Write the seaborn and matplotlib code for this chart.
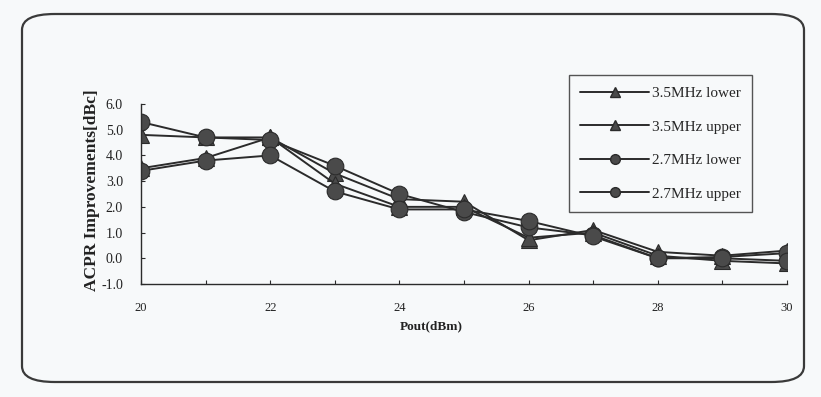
import matplotlib
matplotlib.use("Agg")
import matplotlib.pyplot as plt
from matplotlib.patches import FancyBboxPatch
from matplotlib.lines import Line2D
import numpy as np
import pandas as pd
import seaborn as sns

# Output power sweep (dBm)
pout = [20, 21, 22, 23, 24, 25, 26, 27, 28, 29, 30]

# ACPR improvement (dBc) for each carrier spacing / sideband
acpr_35_lower = [4.8, 4.7, 4.7, 3.3, 2.3, 2.2, 0.7, 1.1, 0.25, 0.1, 0.3]
acpr_35_upper = [3.5, 3.9, 4.7, 2.9, 2.0, 2.0, 0.8, 1.0, 0.1, -0.1, -0.2]
acpr_27_lower = [5.3, 4.7, 4.6, 3.6, 2.5, 1.8, 1.2, 0.9, 0.0, 0.05, 0.2]
acpr_27_upper = [3.4, 3.8, 4.0, 2.6, 1.9, 1.9, 1.45, 0.85, 0.0, 0.0, -0.1]

series_names = ["3.5MHz lower", "3.5MHz upper", "2.7MHz lower", "2.7MHz upper"]
series_markers = ["^", "^", "o", "o"]

y_ticks = [-1.0, 0.0, 1.0, 2.0, 3.0, 4.0, 5.0, 6.0]
x_major = [20, 22, 24, 26, 28, 30]

df = pd.DataFrame({
    "Pout": pout * 4,
    "ACPR": acpr_35_lower + acpr_35_upper + acpr_27_lower + acpr_27_upper,
    "series": np.repeat(series_names, len(pout)),
})

sns.set_theme(style="white")
plt.rcParams["font.family"] = ["Liberation Serif", "DejaVu Serif"]

bg = "#f7f9fa"
ink = "#2b2b2b"
mark = "#4a4a4a"

fig = plt.figure(figsize=(8.21, 3.97), dpi=100, facecolor=bg)
ax = fig.add_axes([141 / 821, 1 - 284 / 397, 646 / 821, 180 / 397])
ax.set_facecolor(bg)

# Rounded frame around the whole figure
frame = FancyBboxPatch((22 / 821, 1 - 382 / 397), 782 / 821, 368 / 397,
                       boxstyle="round,pad=0,rounding_size=0.04",
                       transform=fig.transFigure, facecolor="none",
                       edgecolor="#3a3a3a", linewidth=1.6, zorder=0)
fig.patches.append(frame)

sns.lineplot(data=df, x="Pout", y="ACPR", hue="series", style="series",
             palette=[ink] * 4, markers=dict(zip(series_names, series_markers)),
             dashes=False, markersize=12, markerfacecolor=mark,
             markeredgecolor=ink, markeredgewidth=0.8, linewidth=1.4,
             ax=ax, legend=False)

ax.set_xlim(20, 30)
ax.set_ylim(-1, 6)
ax.set_xticks(x_major)
ax.set_xticks(pout, minor=True)
ax.set_yticks(y_ticks)
ax.set_yticklabels([f"{v:.1f}" for v in y_ticks])
ax.tick_params(axis="both", which="both", direction="in", length=3,
               width=0.8, color=ink, labelcolor="#222222",
               bottom=True, left=True)
ax.tick_params(axis="x", pad=13, labelsize=9)
ax.tick_params(axis="y", pad=13, labelsize=10)

for side in ["top", "right"]:
    ax.spines[side].set_visible(False)
for side in ["left", "bottom"]:
    ax.spines[side].set_color(ink)
    ax.spines[side].set_linewidth(1.0)

ax.set_xlabel("Pout(dBm)", fontsize=9.5, fontweight="bold", color="#222222")
ax.xaxis.set_label_coords(0.45, -0.2)
ax.set_ylabel("ACPR Improvements[dBc]", fontsize=12.5, fontweight="bold",
              color="#222222")
ax.yaxis.set_label_coords(-0.064, 0.52)

handles = [Line2D([], [], color=ink, linewidth=1.4, marker=m, markersize=7,
                  markerfacecolor=mark, markeredgecolor=ink)
           for m in series_markers]
leg = fig.legend(handles, series_names, loc="upper left",
                 bbox_to_anchor=(569 / 821, 1 - 75 / 397),
                 frameon=True, fancybox=False, fontsize=11,
                 handlelength=4.5, handletextpad=0.15, labelspacing=1.3,
                 borderpad=0.75, borderaxespad=0)
leg.get_frame().set_edgecolor(ink)
leg.get_frame().set_linewidth(1.0)
leg.get_frame().set_facecolor(bg)

fig.savefig("out.png", dpi=100, facecolor=bg)
